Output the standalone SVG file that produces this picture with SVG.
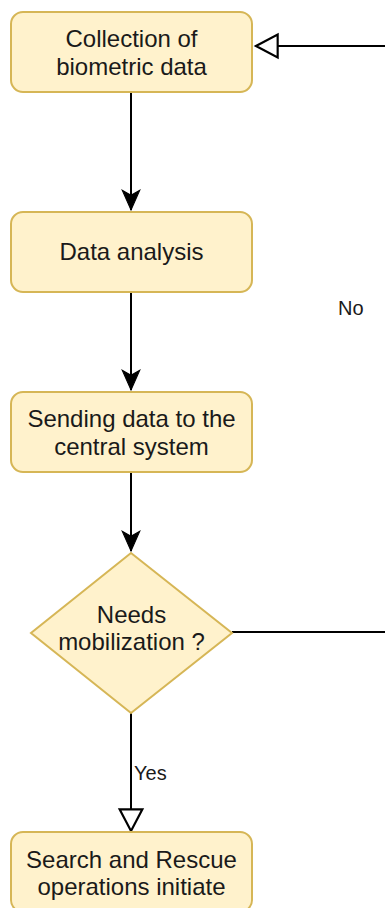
<svg xmlns="http://www.w3.org/2000/svg" width="385" height="908" viewBox="0 0 385 908">
  <style>
    .step { fill: #fff2cc; stroke: #d6b656; stroke-width: 2; }
    .label { font-family: "Liberation Sans", Arial, sans-serif; font-size: 24px; fill: #1a1a1a; text-anchor: middle; }
    .edge { fill: none; stroke: #000; stroke-width: 2; }
    .edge-label { font-family: "Liberation Sans", Arial, sans-serif; font-size: 20px; fill: #1a1a1a; }
  </style>
  <defs>
    <marker id="arrow-filled" markerUnits="userSpaceOnUse" markerWidth="24" markerHeight="24" viewBox="-20 -10 22 20" refX="0" refY="0" orient="auto" overflow="visible">
      <path d="M0,0 L-18,-8 L-13.5,0 L-18,8 Z" fill="#000" stroke="#000" stroke-width="1" stroke-linejoin="miter"/>
    </marker>
    <marker id="arrow-open" markerUnits="userSpaceOnUse" markerWidth="26" markerHeight="26" viewBox="-22 -12 24 24" refX="0" refY="0" orient="auto" overflow="visible">
      <path d="M0,0 L-20,-10.5 L-20,10.5 Z" fill="#fff" stroke="#000" stroke-width="2" stroke-linejoin="miter"/>
    </marker>
  </defs>

  <!-- connectors -->
  <g id="connectors">
    <path class="edge" d="M131,92 L131,210" marker-end="url(#arrow-filled)"/>
    <path class="edge" d="M131,292 L131,390" marker-end="url(#arrow-filled)"/>
    <path class="edge" d="M131,472 L131,551" marker-end="url(#arrow-filled)"/>
    <path class="edge" d="M131,713 L131,831" marker-end="url(#arrow-open)"/>
    <text class="edge-label" x="134" y="780">Yes</text>
    <path class="edge" d="M232,632 L400,632 L400,46 L256,46" marker-end="url(#arrow-open)"/>
    <text class="edge-label" x="338" y="315">No</text>
  </g>

  <g id="collect">
    <rect class="step" x="11" y="12" width="241" height="80" rx="12" ry="12"/>
    <text class="label" x="131.5" y="47">Collection of</text>
    <text class="label" x="131.5" y="75">biometric data</text>
  </g>

  <g id="analysis">
    <rect class="step" x="11" y="212" width="241" height="80" rx="12" ry="12"/>
    <text class="label" x="131.5" y="260">Data analysis</text>
  </g>

  <g id="send">
    <rect class="step" x="11" y="392" width="241" height="80" rx="12" ry="12"/>
    <text class="label" x="131.5" y="427">Sending data to the</text>
    <text class="label" x="131.5" y="455">central system</text>
  </g>

  <g id="decision">
    <polygon class="step" points="131,553 232,633 131,713 31,633"/>
    <text class="label" x="131.5" y="623">Needs</text>
    <text class="label" x="131.5" y="650">mobilization ?</text>
  </g>

  <g id="rescue">
    <rect class="step" x="11" y="832" width="241" height="80" rx="12" ry="12"/>
    <text class="label" x="131.5" y="868">Search and Rescue</text>
    <text class="label" x="131.5" y="895">operations initiate</text>
  </g>
</svg>
